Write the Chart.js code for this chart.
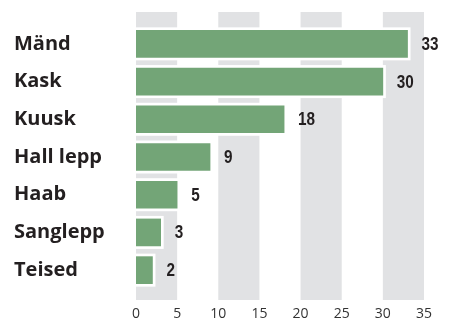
<!DOCTYPE html>
<html>
<head>
<meta charset="utf-8">
<script src="https://cdn.jsdelivr.net/npm/chart.js@4"></script>
<style>
  html, body { margin: 0; padding: 0; background: #fff; }
  #wrap { width: 449px; height: 319px; }
</style>
</head>
<body>
<div id="wrap"><canvas id="myChart"></canvas></div>
<script>
// Chart data
const categories = ["Mänd", "Kask", "Kuusk", "Hall lepp", "Haab", "Sanglepp", "Teised"];
const values = [33, 30, 18, 9, 5, 3, 2];
const tickValues = [0, 5, 10, 15, 20, 25, 30, 35];
const bandStarts = [0, 10, 20, 30];
const bandWidth = 5;

const textColor = "#231f20";

// Gray vertical bands behind the bars, plus white outline around each bar
const bandPlugin = {
  id: "bands",
  beforeDatasetsDraw(chart) {
    const ctx = chart.ctx;
    const x = chart.scales.x;
    const area = chart.chartArea;
    ctx.save();
    ctx.fillStyle = "#e1e2e4";
    bandStarts.forEach(s => {
      const x0 = x.getPixelForValue(s);
      const x1 = x.getPixelForValue(s + bandWidth);
      ctx.fillRect(x0, area.top - 13, x1 - x0, area.bottom - area.top + 24);
    });
    // white halo
    ctx.fillStyle = "#ffffff";
    chart.getDatasetMeta(0).data.forEach(bar => {
      const left = x.getPixelForValue(0);
      ctx.fillRect(left, bar.y - bar.height / 2 - 3, bar.x - left + 3, bar.height + 6);
    });
    ctx.restore();
  }
};

// Value labels at the end of each bar
const valueLabelPlugin = {
  id: "valueLabels",
  afterDatasetsDraw(chart) {
    const ctx = chart.ctx;
    const meta = chart.getDatasetMeta(0);
    ctx.save();
    ctx.fillStyle = textColor;
    ctx.font = "bold 18px 'Liberation Sans', sans-serif";
    ctx.textAlign = "left";
    ctx.textBaseline = "middle";
    meta.data.forEach((bar, i) => {
      ctx.save();
      ctx.translate(bar.x + 14, bar.y + 1);
      ctx.scale(0.85, 1);
      ctx.fillText(String(values[i]), 0, 0);
      ctx.restore();
    });
    ctx.restore();
  }
};

new Chart(document.getElementById("myChart"), {
  type: "bar",
  data: {
    labels: categories,
    datasets: [{
      data: values,
      backgroundColor: "#73a577",
      borderWidth: 0,
      barThickness: 27
    }]
  },
  options: {
    indexAxis: "y",
    responsive: true,
    maintainAspectRatio: false,
    animation: false,
    layout: { padding: { left: 14, right: 22, top: 25, bottom: 0 } },
    plugins: {
      legend: { display: false },
      tooltip: { enabled: false }
    },
    scales: {
      x: {
        min: 0,
        max: 35,
        afterBuildTicks(axis) {
          axis.ticks = tickValues.map(v => ({ value: v }));
        },
        afterFit(axis) { axis.height = 30; },
        grid: { display: false, drawTicks: false },
        border: { display: false },
        ticks: {
          padding: 17,
          color: "#333",
          font: { family: "'Open Sans', sans-serif", size: 14 }
        }
      },
      y: {
        afterFit(axis) { axis.width = 122; },
        grid: { display: false, drawTicks: false },
        border: { display: false },
        ticks: {
          crossAlign: "far",
          color: textColor,
          font: { family: "'Open Sans', sans-serif", size: 20, weight: "bold" }
        }
      }
    }
  },
  plugins: [bandPlugin, valueLabelPlugin]
});
</script>
</body>
</html>
